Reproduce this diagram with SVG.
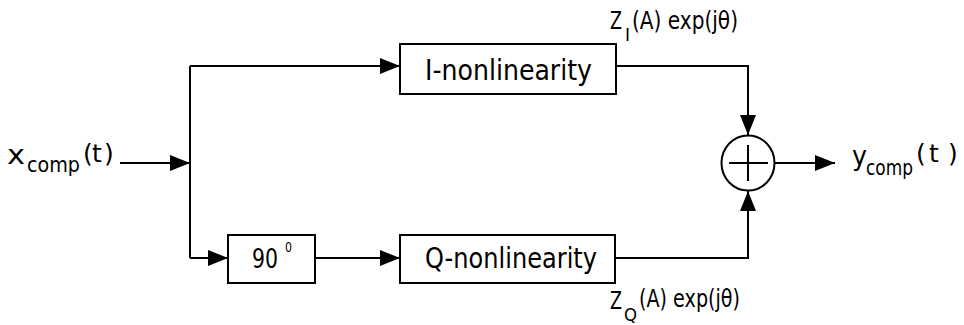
<svg xmlns="http://www.w3.org/2000/svg" width="964" height="325" viewBox="0 0 964 325">
<style>
.ln{fill:none;stroke:#000;stroke-width:2}
.bx{fill:#fff;stroke:#000;stroke-width:2}
.t{font-family:"DejaVu Sans","Liberation Sans",sans-serif;fill:#000}
</style>
<defs>
<marker id="ah" viewBox="0 0 20 16" refX="20" refY="8" markerWidth="20" markerHeight="16" markerUnits="userSpaceOnUse" orient="auto">
<path d="M0,0 L20,8 L0,16 Z" fill="#000"/>
</marker>
</defs>
<rect width="964" height="325" fill="#fff"/>
<g id="connectors">
<line class="ln" x1="120" y1="163" x2="190" y2="163" marker-end="url(#ah)"/>
<line class="ln" x1="190" y1="66" x2="190" y2="258"/>
<line class="ln" x1="190" y1="66" x2="400" y2="66" marker-end="url(#ah)"/>
<line class="ln" x1="190" y1="258" x2="228" y2="258" marker-end="url(#ah)"/>
<line class="ln" x1="315" y1="258" x2="400" y2="258" marker-end="url(#ah)"/>
<polyline class="ln" points="616,66 748,66 748,135" marker-end="url(#ah)"/>
<polyline class="ln" points="615,258 748,258 748,191" marker-end="url(#ah)"/>
<line class="ln" x1="775" y1="163" x2="835" y2="163" marker-end="url(#ah)"/>
</g>
<g id="input">
<text class="t" font-size="26"><tspan x="7" y="164" textLength="18" lengthAdjust="spacingAndGlyphs">x</tspan><tspan x="27" y="172" font-size="21" textLength="53" lengthAdjust="spacingAndGlyphs">comp</tspan><tspan x="83 92 104" y="162" font-size="25">(t)</tspan></text>
</g>
<g id="i-nonlinearity">
<rect class="bx" x="400" y="44" width="216" height="50"/>
<text class="t" x="425" y="80" font-size="28" textLength="167" lengthAdjust="spacingAndGlyphs">I-nonlinearity</text>
</g>
<g id="phase90">
<rect class="bx" x="228" y="235" width="87" height="48"/>
<text class="t" font-size="27"><tspan x="252" y="268" textLength="26" lengthAdjust="spacingAndGlyphs">90</tspan><tspan x="285" y="252" font-size="14" textLength="7" lengthAdjust="spacingAndGlyphs">0</tspan></text>
</g>
<g id="q-nonlinearity">
<rect class="bx" x="400" y="235" width="215" height="48"/>
<text class="t" x="425" y="268" font-size="28" textLength="172" lengthAdjust="spacingAndGlyphs">Q-nonlinearity</text>
</g>
<g id="summer">
<ellipse class="bx" cx="748" cy="163" rx="26.5" ry="27.5"/>
<line class="ln" x1="729" y1="163" x2="768" y2="163"/>
<line class="ln" x1="748" y1="145" x2="748" y2="181"/>
</g>
<g id="output">
<text class="t" font-size="26"><tspan x="852" y="165" textLength="15" lengthAdjust="spacingAndGlyphs">y</tspan><tspan x="866" y="175" font-size="21" textLength="47" lengthAdjust="spacingAndGlyphs">comp</tspan><tspan x="916 929 948" y="162" font-size="25">(t)</tspan></text>
</g>
<g id="label-zi">
<text class="t" font-size="24"><tspan x="610" y="29" textLength="12" lengthAdjust="spacingAndGlyphs">Z</tspan><tspan x="625" y="41" font-size="17" textLength="5" lengthAdjust="spacingAndGlyphs">I</tspan><tspan x="632" y="29" textLength="106" lengthAdjust="spacingAndGlyphs">(A) exp(jθ)</tspan></text>
</g>
<g id="label-zq">
<text class="t" font-size="24"><tspan x="610" y="309" textLength="12" lengthAdjust="spacingAndGlyphs">Z</tspan><tspan x="624" y="321" font-size="17" textLength="13" lengthAdjust="spacingAndGlyphs">Q</tspan><tspan x="639" y="307" textLength="101" lengthAdjust="spacingAndGlyphs">(A) exp(jθ)</tspan></text>
</g>
</svg>
